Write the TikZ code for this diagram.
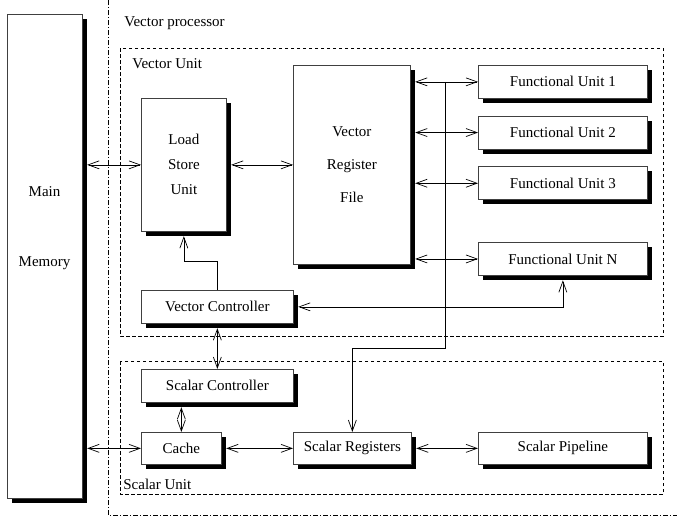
\documentclass[tikz,border=0pt]{standalone}
\usepackage{fontspec}
\setmainfont{Liberation Serif}
\usetikzlibrary{positioning,arrows.meta,shadows}
\tikzset{every picture/.style={line width=0.7pt}}

\begin{document}
\begin{tikzpicture}[x=1pt, y=-1pt, font=\fontsize{15}{18}\selectfont,
    box/.style={draw=black!75, rectangle, fill=white, inner sep=0pt, align=center, anchor=north west,
        drop shadow={shadow xshift=4.5pt, shadow yshift=-4.5pt, fill=black, opacity=1}},
    link/.style={{Straight Barb[length=11pt,width=8pt]}-{Straight Barb[length=11pt,width=8pt]}},
    onelink/.style={-{Straight Barb[length=11pt,width=8pt]}},
    unitframe/.style={dash pattern=on 3.5pt off 2.5pt},
    procframe/.style={dash pattern=on 5pt off 2pt on 1pt off 2pt}]
\useasboundingbox (0,0) rectangle (677,522);

    % Frames
\draw[procframe] (108,-10) -- (108,515) -- (690,515);
\draw[unitframe] (120,48) rectangle (663,336);
\draw[unitframe] (120,361) rectangle (663,494);
\node[anchor=west, inner sep=0pt] (VPlbl) at (124,23) {Vector processor};
\node[anchor=west, inner sep=0pt] (VUlbl) at (132,64) {Vector Unit};
\node[anchor=west, inner sep=0pt] (SUlbl) at (123,484) {Scalar Unit};

    % Memory
\node[box, minimum width=75, minimum height=484] (MM) at (7,14) {};
\node[align=center] (MMlbl) at (44.5,228) {Main\\[52pt]Memory};

    % Vector unit
\node[box, minimum width=85, minimum height=133] (LSU) at (141,98) {Load\\[7pt]Store\\[7pt]Unit};
\node[box, minimum width=117, minimum height=199] (VRF) at (293,65) {Vector\\[15pt]Register\\[15pt]File};
\node[box, minimum width=169, minimum height=33] (FU1) at (478,65) {Functional Unit 1};
\node[box, minimum width=169, minimum height=33, below=17pt of FU1] (FU2) {Functional Unit 2};
\node[box, minimum width=169, minimum height=33, below=17pt of FU2] (FU3) {Functional Unit 3};
\node[box, minimum width=169, minimum height=33, below=42pt of FU3] (FUN) {Functional Unit N};
\node[box, minimum width=152, minimum height=33] (VC) at (141,290) {Vector Controller};

    % Scalar unit
\node[box, minimum width=152, minimum height=33] (SC) at (141,369) {Scalar Controller};
\node[box, minimum width=80, minimum height=32] (CA) at (141,432) {Cache};
\node[box, minimum width=118, minimum height=32] (SR) at (293,432) {Scalar Registers};
\node[box, minimum width=169, minimum height=32] (SP) at (478,432) {Scalar Pipeline};

    % Connections
    \draw[link, shorten <=4.5pt] (MM.east |- LSU.west) -- (LSU.west);
    \draw[link, shorten <=4.5pt] (LSU.east) -- (VRF.west);
    \foreach \f in {FU1,FU2,FU3,FUN}
        \draw[link, shorten <=4.5pt] (VRF.east |- \f.west) -- (\f.west);

    \coordinate (bend) at (445,348);
    \draw[onelink] (bend |- FU1.west) -- (bend) -| (SR.north);

    \draw[onelink, shorten >=4.5pt] (VC.north) -- ++(0,-29) -| (LSU.south);
    \draw[link, shorten <=4.5pt, shorten >=4.5pt] (FUN.south) |- (VC.east);
    \draw[link, shorten <=4.5pt] (VC.south) -- (SC.north);
    \draw[link, shorten <=4.5pt] (CA.north |- SC.south) -- (CA.north);

    \draw[link, shorten <=4.5pt] (MM.east |- CA.west) -- (CA.west);
    \draw[link, shorten <=4.5pt] (CA.east) -- (SR.west);
    \draw[link, shorten <=4.5pt] (SR.east) -- (SP.west);
\end{tikzpicture}
\end{document}
